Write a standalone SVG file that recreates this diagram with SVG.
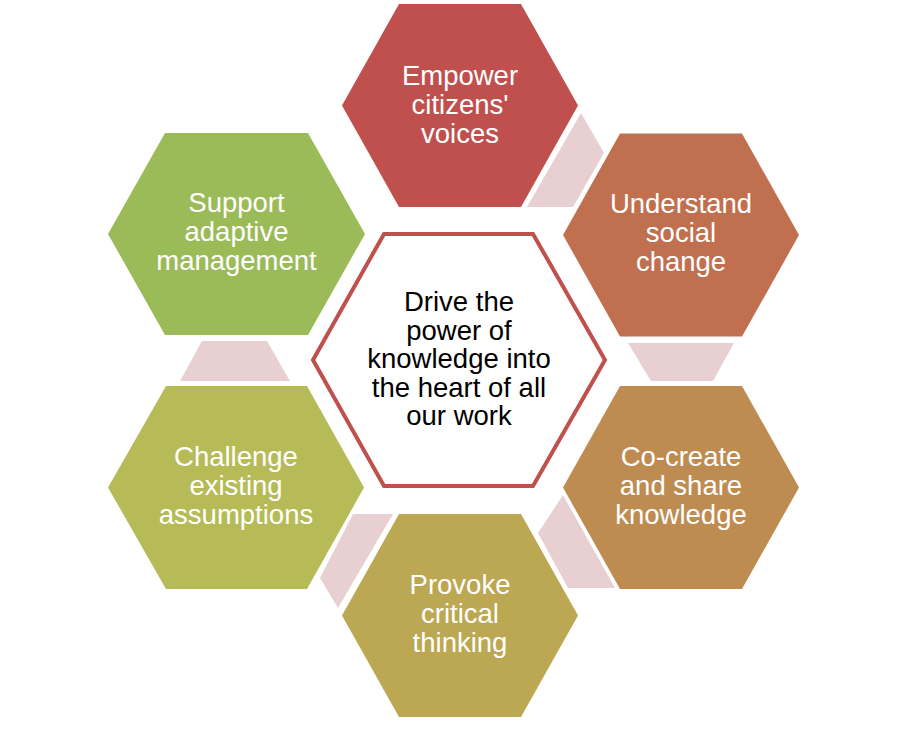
<svg xmlns="http://www.w3.org/2000/svg" width="913" height="736" viewBox="0 0 913 736">
<style>
.t{font-family:"Liberation Sans",Arial,sans-serif;font-size:27.5px;text-anchor:middle;fill:#FFFFFF}
.c{fill:#000000}
.pink{fill:#E8D0D2}
</style>
<rect width="913" height="736" fill="#FFFFFF"/>
<g id="connectors">
<polygon class="pink" points="581,113 604,153 573,207 527,207"/>
<polygon class="pink" points="628,343 734,343 713,381 651,381"/>
<polygon class="pink" points="563,495 615,588 568,588 538,533"/>
<polygon class="pink" points="353,514 393,514 338,608 320,578"/>
<polygon class="pink" points="202,341 267,341 290,381 180,381"/>
</g>
<g id="empower">
<polygon points="342,105.5 399,4 521,4 578,105.5 521,207 399,207" fill="#C0504D"/>
<text class="t" x="460" y="85">Empower</text>
<text class="t" x="460" y="114">citizens'</text>
<text class="t" x="460" y="143">voices</text>
</g>
<g id="understand">
<polygon points="563,235 620,133.5 742,133.5 799,235 742,336.5 620,336.5" fill="#C0704F"/>
<text class="t" x="681" y="213">Understand</text>
<text class="t" x="681" y="242">social</text>
<text class="t" x="681" y="271">change</text>
</g>
<g id="cocreate">
<polygon points="563,487.5 620,386 742,386 799,487.5 742,589 620,589" fill="#BE8C51"/>
<text class="t" x="681" y="466">Co-create</text>
<text class="t" x="681" y="495">and share</text>
<text class="t" x="681" y="524">knowledge</text>
</g>
<g id="provoke">
<polygon points="342,615.5 399,514 521,514 578,615.5 521,717 399,717" fill="#BCA752"/>
<text class="t" x="460" y="594">Provoke</text>
<text class="t" x="460" y="623">critical</text>
<text class="t" x="460" y="652">thinking</text>
</g>
<g id="challenge">
<polygon points="108,487.5 166,386 307,386 364,487.5 307,589 166,589" fill="#B6BB57"/>
<text class="t" x="236" y="466">Challenge</text>
<text class="t" x="236" y="495">existing</text>
<text class="t" x="236" y="524">assumptions</text>
</g>
<g id="support">
<polygon points="108,234 165,133 308,133 365,234 308,335 165,335" fill="#9BBB59"/>
<text class="t" x="236.5" y="212">Support</text>
<text class="t" x="236.5" y="241">adaptive</text>
<text class="t" x="236.5" y="270">management</text>
</g>
<g id="center">
<polygon points="313,360 384,234 533,234 605,360 533,486 384,486" fill="#FFFFFF" stroke="#C0504D" stroke-width="4"/>
<text class="t c" x="459" y="311">Drive the</text>
<text class="t c" x="459" y="339.5">power of</text>
<text class="t c" x="459" y="368">knowledge into</text>
<text class="t c" x="459" y="396.5">the heart of all</text>
<text class="t c" x="459" y="425">our work</text>
</g>
</svg>
